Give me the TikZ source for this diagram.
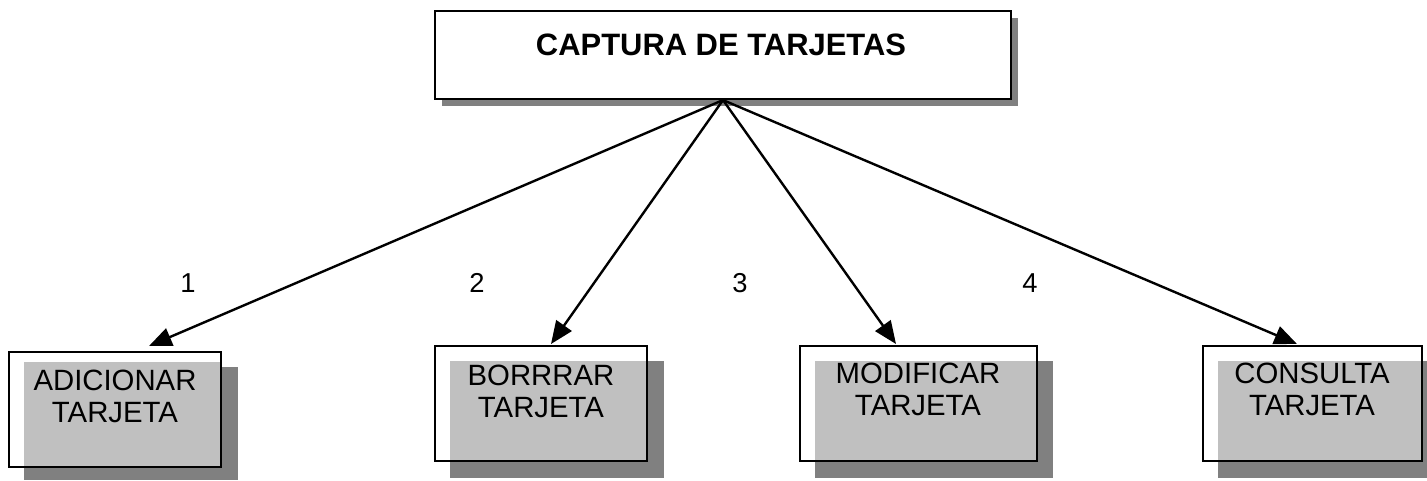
\documentclass[tikz,border=0pt]{standalone}
\usepackage{fontspec}
\setmainfont{Liberation Sans}
\usetikzlibrary{arrows.meta}
\definecolor{boxgray}{HTML}{C0C0C0}
\definecolor{shadowgray}{HTML}{808080}
\begin{document}
\begin{tikzpicture}[x=0.75pt,y=-0.75pt,
  frame/.style={draw=black,line width=1.6pt},
  framefill/.style={fill=white,draw=none,inner sep=0pt},
  arr/.style={line width=1.8pt,-{Triangle[length=17pt,width=14pt]}},
  lbl/.style={font=\fontsize{20.5}{24}\selectfont,inner sep=0pt},
  boxtext/.style={font=\fontsize{22}{24}\selectfont,align=center,inner sep=0pt,anchor=north},
  titletext/.style={font=\bfseries\fontsize{23.2}{26}\selectfont,inner sep=0pt,anchor=north}]
\useasboundingbox (0,0) rectangle (1427,480);
\fill[white] (0,0) rectangle (1427,480);

% top box
\fill[shadowgray] (442,18) rectangle (1018,106);
\node[frame,fill=white,inner sep=0pt,minimum width=432pt,minimum height=66pt] (top) at (723,55) {};
\node[titletext] (title) at (721,34) {CAPTURA DE TARJETAS};

% box 1
\node[framefill,minimum width=159pt,minimum height=86.25pt] (f1) at (115,409.5) {};
\fill[shadowgray] (24,367) rectangle (238,480);
\fill[boxgray] (24,362) rectangle (221,467);
\draw[frame] (f1.north west) rectangle (f1.south east);
\node[boxtext] (t1) at (115,370) {ADICIONAR\\TARJETA};

% box 2
\node[framefill,minimum width=159pt,minimum height=86.25pt] (f2) at (541,403.5) {};
\fill[shadowgray] (450,361) rectangle (664,478);
\fill[boxgray] (450,361) rectangle (647,461);
\draw[frame] (f2.north west) rectangle (f2.south east);
\node[boxtext] (t2) at (541,365) {BORRRAR\\TARJETA};

% box 3
\node[framefill,minimum width=177.75pt,minimum height=86.25pt] (f3) at (918.5,403.5) {};
\fill[shadowgray] (815,361) rectangle (1053,478);
\fill[boxgray] (815,361) rectangle (1037,461);
\draw[frame] (f3.north west) rectangle (f3.south east);
\node[boxtext] (t3) at (918,363) {MODIFICAR\\TARJETA};

% box 4
\node[framefill,minimum width=164.25pt,minimum height=86.25pt] (f4) at (1312.5,403.5) {};
\fill[shadowgray] (1218,361) rectangle (1427,478);
\fill[boxgray] (1218,361) rectangle (1422,461);
\draw[frame] (f4.north west) rectangle (f4.south east);
\node[boxtext] (t4) at (1312,363) {CONSULTA\\TARJETA};

% arrow tips
\coordinate (e1) at (149,346);
\coordinate (e2) at (551,344);
\coordinate (e3) at (896,344);
\coordinate (e4) at (1297,344);
\draw[arr] (top.south) -- (e1);
\draw[arr] (top.south) -- (e2);
\draw[arr] (top.south) -- (e3);
\draw[arr] (top.south) -- (e4);

% labels
\node[lbl] (l1) at (188,283) {1};
\node[lbl] (l2) at (477,283) {2};
\node[lbl] (l3) at (740,283) {3};
\node[lbl] (l4) at (1030,283) {4};
\end{tikzpicture}
\end{document}
